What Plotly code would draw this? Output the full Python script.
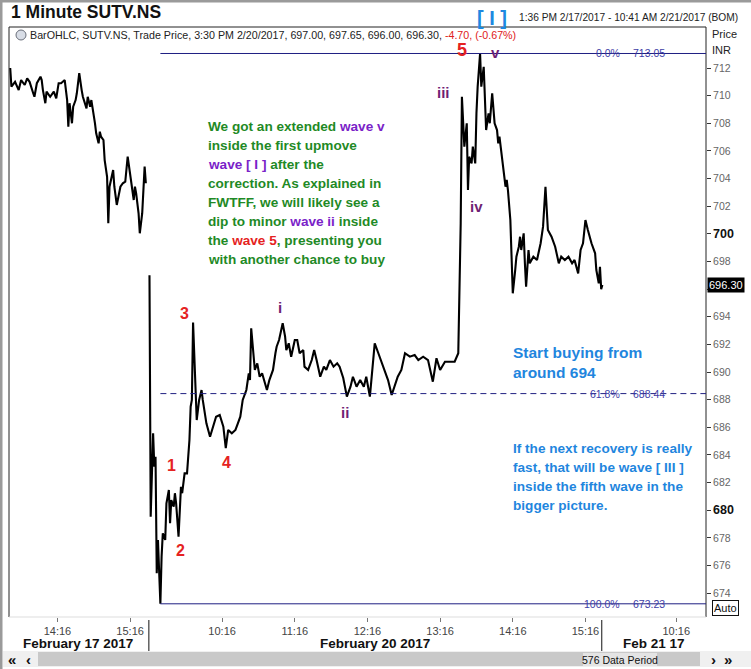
import plotly.graph_objects as go

# ---------------- data ----------------
# bar index (1-minute bars from 1:36 PM 2/17/2017) and price, Feb 17 session
feb17_idx = [1, 2, 5, 8, 10, 13, 15, 17, 20, 21, 23, 26, 27, 28, 30, 31, 34, 37, 39, 41,
             43, 46, 48, 49, 50, 52, 53, 55, 56, 58, 60, 61, 64, 65, 67, 68, 71, 72, 74, 75,
             76, 78, 79, 81, 82, 83, 86, 87, 89, 92, 94, 96, 98, 100, 103, 104, 105, 107, 108, 110,
             111, 112, 113]
feb17_px = [712.0, 710.65, 711.0, 710.4, 711.13, 710.77, 711.25, 711.0, 710.17, 709.92,
            710.9, 711.37, 711.13, 710.4, 709.45, 710.29, 709.92, 710.29, 709.81, 710.9,
            710.9, 711.13, 709.68, 707.75, 709.45, 708.0, 709.2, 709.68, 710.17, 711.62,
            710.4, 709.92, 709.08, 709.92, 709.2, 709.68, 708.0, 707.27, 706.55, 707.39,
            707.03, 706.79, 705.34, 704.13, 700.76, 703.41, 704.62, 703.41, 702.09, 703.41,
            703.66, 703.77, 705.58, 704.38, 702.45, 703.41, 702.93, 701.49, 700.04, 701.49,
            703.41, 704.86, 703.66]

# Feb 20 session
feb20_idx = [116, 117, 119, 120, 121, 122, 123, 124, 125, 126, 127, 129, 130, 132, 133, 134, 136, 137, 138, 140,
             141, 142, 143, 145, 147, 149, 150, 151, 152, 154, 155, 157, 159, 160, 162, 163, 166, 169, 171, 174,
             177, 179, 181, 184, 187, 189, 191, 193, 196, 198, 199, 200, 202, 203, 205, 207, 209, 211, 213, 215,
             218, 220, 221, 223, 226, 228, 229, 231, 233, 236, 238, 240, 243, 244, 247, 250, 252, 254, 257, 260,
             262, 265, 268, 271, 273, 276, 279, 282, 284, 287, 290, 293, 295, 298, 300, 302, 305, 308, 311, 313,
             316, 319, 321, 324, 327, 331, 335, 338, 342, 346, 350, 353, 356, 360, 364, 368, 371, 372, 373, 374,
             376, 378, 379, 380, 382, 383, 385, 386, 387, 389, 390, 392, 393, 394, 396, 397, 399, 400, 401, 403,
             404, 405, 407, 408, 410, 411, 412, 414, 415, 416, 418, 419, 421, 422, 423, 425, 426, 427, 429, 430,
             433, 436, 439, 440, 441, 443, 444, 445, 448, 451, 454, 456, 459, 462, 465, 467, 470, 472, 474, 476,
             478, 481, 484, 485, 487, 488, 489, 490]
feb20_px = [697.0, 679.53, 685.57, 683.15, 683.87, 675.44, 677.85, 675.44, 673.23, 676.64,
            678.33, 677.85, 680.5, 681.46, 679.06, 680.74, 680.26, 681.23, 680.5, 678.09,
            680.26, 681.7, 681.23, 682.67, 682.67, 685.08, 687.49, 687.98, 693.58, 688.7,
            686.53, 687.98, 688.7, 687.98, 687.01, 686.29, 685.32, 686.29, 686.77, 686.89,
            686.05, 684.5, 685.81, 685.57, 685.81, 686.29, 686.77, 687.98, 688.7, 689.91,
            689.42, 693.17, 691.36, 690.15, 690.63, 689.66, 689.91, 689.19, 688.7, 689.42,
            690.15, 691.36, 691.83, 692.32, 693.53, 692.56, 691.59, 692.08, 691.11, 692.32,
            692.32, 691.36, 691.59, 690.39, 690.15, 690.87, 691.59, 690.87, 689.66, 690.39,
            690.15, 690.87, 690.39, 690.63, 690.39, 689.57, 688.22, 688.94, 689.66, 688.94,
            689.42, 688.94, 689.66, 688.22, 689.91, 692.08, 691.36, 690.63, 689.91, 689.42,
            688.34, 689.19, 689.66, 690.15, 691.36, 691.11, 691.23, 690.87, 691.11, 690.87,
            689.3, 691.0, 690.15, 690.75, 690.75, 690.75, 691.36, 696.18, 700.76, 709.92,
            706.31, 708.0, 703.17, 705.58, 705.1, 706.31, 705.1, 708.72, 710.65, 713.05,
            710.65, 712.09, 709.92, 707.51, 708.72, 708.0, 710.17, 708.72, 708.0, 707.51,
            706.55, 707.03, 705.58, 704.62, 703.41, 703.9, 703.17, 701.0, 697.87, 695.7,
            697.38, 698.35, 699.07, 699.79, 698.83, 700.04, 697.87, 696.18, 698.83, 697.87,
            698.35, 698.11, 699.32, 700.04, 700.52, 703.41, 701.73, 700.28, 699.79, 699.07,
            697.87, 698.35, 698.11, 698.35, 697.87, 698.11, 697.14, 698.83, 699.32, 701.0,
            700.28, 699.32, 698.59, 697.38, 696.42, 697.62, 696.0, 696.30]

tick_idx = [40, 100, 176, 236, 296, 356, 416, 476, 551]
tick_lbl = ["14:16", "15:16", "10:16", "11:16", "12:16", "13:16", "14:16", "15:16", "10:16"]
day_break_idx = [115.5, 489.5]
day_names = ["February 17 2017", "February 20 2017", "Feb 21 17"]

price_ticks = list(range(674, 713, 2))
fib_levels = [713.05, 688.44, 673.23]
fib_pcts = ["0.0%", "61.8%", "100.0%"]
fib_start_idx = 125
last_close = 696.30

# ---------------- helpers (pixel -> paper) ----------------
L, R, T, B = 9, 706, 27, 617
def pxx(x):
    return (x - L) / (R - L)
def pxy(y):
    return (B - y) / (B - T)

FONT = "Liberation Sans, Arial, sans-serif"
GREEN = "#1f8a26"
VIOLET = "#7a22c8"
BLUE = "#1f86de"
RED = "#e52222"
PURP = "#6f1f74"
NAVY = "#1f1f82"

fig = go.Figure()
fig.add_trace(go.Scatter(x=feb17_idx, y=feb17_px, mode="lines",
                         line=dict(color="black", width=2.1), hoverinfo="skip"))
fig.add_trace(go.Scatter(x=feb20_idx, y=feb20_px, mode="lines",
                         line=dict(color="black", width=2.1), hoverinfo="skip"))

ticktext = []
for v in price_ticks:
    if v in (700, 680):
        ticktext.append('<span style="font-size:12.5px;color:#111"><b>%d</b></span>' % v)
    elif v == 696:
        ticktext.append("")  # hidden behind the last-price box
    else:
        ticktext.append(str(v))

xr = [0, (R - L) / 1.211]
yr = [712 - (B - 68) / 13.82, 712 + (68 - T) / 13.82]

fig.update_layout(
    width=751, height=669, autosize=False,
    margin=dict(l=L, r=751 - R, t=T, b=669 - B),
    paper_bgcolor="white", plot_bgcolor="white",
    showlegend=False,
    font=dict(family=FONT, size=11, color="#333"),
    xaxis=dict(range=xr, showgrid=False, zeroline=False, showline=False,
               tickmode="array", tickvals=tick_idx, ticktext=tick_lbl,
               ticks="outside", ticklen=4, tickcolor="#777",
               tickfont=dict(size=11, color="#444", family=FONT)),
    yaxis=dict(range=yr, side="right", showgrid=False, zeroline=False, showline=False,
               tickmode="array", tickvals=price_ticks, ticktext=ticktext,
               ticks="outside", ticklen=4, tickcolor="#333",
               tickfont=dict(size=10.5, color="#666", family=FONT)),
)

shapes = []
# outer window border
shapes.append(dict(type="rect", xref="paper", yref="paper", x0=pxx(0), x1=pxx(2.5), y0=pxy(669), y1=pxy(0),
                   fillcolor="#9a9a9a", line=dict(width=0), layer="above"))
shapes.append(dict(type="rect", xref="paper", yref="paper", x0=pxx(0), x1=pxx(751), y0=pxy(2.5), y1=pxy(0),
                   fillcolor="#9a9a9a", line=dict(width=0), layer="above"))
# plot frame
shapes.append(dict(type="line", xref="paper", yref="paper", x0=0, x1=1, y0=1, y1=1, line=dict(color="#222", width=1)))
shapes.append(dict(type="line", xref="paper", yref="paper", x0=0, x1=0, y0=0, y1=1, line=dict(color="#222", width=1)))
shapes.append(dict(type="line", xref="paper", yref="paper", x0=1, x1=1, y0=0, y1=1, line=dict(color="#222", width=1)))
shapes.append(dict(type="line", xref="paper", yref="paper", x0=0, x1=1, y0=0, y1=0, line=dict(color="#dddddd", width=1)))
# fib lines
for lvl, dash in zip(fib_levels, ["solid", "6px,4px", "solid"]):
    shapes.append(dict(type="line", xref="x", yref="y", x0=fib_start_idx, x1=xr[1], y0=lvl, y1=lvl,
                       line=dict(color=NAVY, width=1, dash=dash)))
# day separators
for d in day_break_idx:
    shapes.append(dict(type="line", xref="x", yref="paper", x0=d, x1=d, y0=pxy(620), y1=pxy(651),
                       line=dict(color="#111", width=1)))
# scrollbar
shapes.append(dict(type="rect", xref="paper", yref="paper", x0=pxx(3), x1=pxx(751), y0=pxy(667), y1=pxy(651),
                   fillcolor="#f0f0f0", line=dict(width=0)))
shapes.append(dict(type="rect", xref="paper", yref="paper", x0=pxx(38), x1=pxx(700), y0=pxy(666), y1=pxy(652),
                   fillcolor="#c9c9c9", line=dict(width=0)))
shapes.append(dict(type="rect", xref="paper", yref="paper", x0=pxx(583), x1=pxx(657), y0=pxy(666), y1=pxy(653),
                   fillcolor="#e4e4e4", line=dict(width=0)))
# clock icon
shapes.append(dict(type="circle", xref="paper", yref="paper", x0=pxx(16), x1=pxx(26), y0=pxy(40), y1=pxy(30),
                   fillcolor="#d8dde6", line=dict(color="#6a6f7a", width=1)))
fig.update_layout(shapes=shapes)

ann = []
def A(text, x, y, size=11, color="#222", xanchor="left", bold=False, **kw):
    t = "<b>%s</b>" % text if bold else text
    ann.append(dict(text=t, x=pxx(x), y=pxy(y), xref="paper", yref="paper", showarrow=False,
                    xanchor=xanchor, yanchor="middle", font=dict(size=size, color=color, family=FONT), **kw))

A("1 Minute SUTV.NS", 9, 12, size=17.5, color="#111", bold=True)
A('BarOHLC, SUTV.NS, Trade Price, 3:30 PM 2/20/2017, 697.00, 697.65, 696.00, 696.30, '
  '<span style="color:#e02020">-4.70, (-0.67%)</span>', 28, 35, size=10.7, color="#222")
A("[ I ]", 492, 18, size=20, color="#1e88e0", xanchor="center", bold=True)
A("1:36 PM 2/17/2017 - 10:41 AM 2/21/2017 (BOM)", 517, 17, size=10.2, color="#222")
A("Price", 710, 34, size=11, color="#222")
A("INR", 710, 50, size=11, color="#222")

# fib labels
for lvl, pct in zip(fib_levels, fib_pcts):
    y = 68 + (712 - lvl) * 13.82
    A(pct, 622, y, size=10.5, color="#3d3da6", xanchor="right")
    A("%.2f" % lvl, 631, y, size=10.5, color="#3d3da6")

# green commentary
v = '<span style="color:%s">wave v</span>' % VIOLET
lines = [
    "We got an extended " + v,
    "inside the first upmove",
    '<span style="color:%s">wave [ I ]</span> after the' % VIOLET,
    "correction. As explained in",
    "FWTFF, we will likely see a",
    'dip to minor <span style="color:%s">wave ii</span> inside' % VIOLET,
    'the <span style="color:%s">wave 5</span>, presenting you' % RED,
    "with another chance to buy",
]
for k, t in enumerate(lines):
    A(t, 206, 126.7 + 19.04 * k, size=13.6, color=GREEN, bold=True)

# blue commentary
A("Start buying from", 511, 353, size=15.5, color=BLUE, bold=True)
A("around 694", 511, 372.5, size=15.5, color=BLUE, bold=True)
blue2 = ["If the next recovery is really", "fast, that will be wave [ III ]",
         "inside the fifth wave in the", "bigger picture."]
for k, t in enumerate(blue2):
    A(t, 511, 448 + 19.3 * k, size=13.6, color=BLUE, bold=True)

# wave labels
for t, x, y in [("1", 171, 465), ("2", 180, 550), ("3", 184, 313), ("4", 227, 462)]:
    A(t, x, y, size=16, color=RED, xanchor="center", bold=True)
A("5", 462, 50, size=18, color=RED, xanchor="center", bold=True)
for t, x, y in [("i", 280, 307), ("ii", 345, 412), ("iii", 443, 92), ("iv", 476, 206), ("v", 495, 52)]:
    A(t, x, y, size=15, color=PURP, xanchor="center", bold=True)

# x-axis date labels
for name, x in zip(day_names, [78, 375, 654]):
    A(name, x, 643, size=13.5, color="#111", xanchor="center", bold=True)

# scroll buttons + period label
A("«", 12, 659, size=15, color="#111", xanchor="center", bold=True)
A("‹", 28, 659, size=15, color="#111", xanchor="center", bold=True)
A("›", 713, 659, size=15, color="#111", xanchor="center", bold=True)
A("»", 728, 659, size=15, color="#111", xanchor="center", bold=True)
A("576 Data Period", 620, 660, size=10.5, color="#111", xanchor="center")

# Auto box
ann.append(dict(text="Auto", x=pxx(712), y=pxy(608), xref="paper", yref="paper", showarrow=False,
                xanchor="left", yanchor="middle", font=dict(size=11, color="#111", family=FONT),
                bordercolor="#111", borderwidth=1, borderpad=1, bgcolor="white"))
# last price box
ann.append(dict(text="%.2f" % last_close, x=1, y=last_close, xref="paper", yref="y", showarrow=False,
                xanchor="left", yanchor="middle", font=dict(size=11, color="white", family=FONT),
                bgcolor="black", borderpad=1, xshift=1))

fig.update_layout(annotations=ann)
fig.write_html("out.html", config={"displayModeBar": False},
               post_script="document.body.style.margin='0';document.body.style.padding='0';"
                           "document.body.style.overflow='hidden';")
